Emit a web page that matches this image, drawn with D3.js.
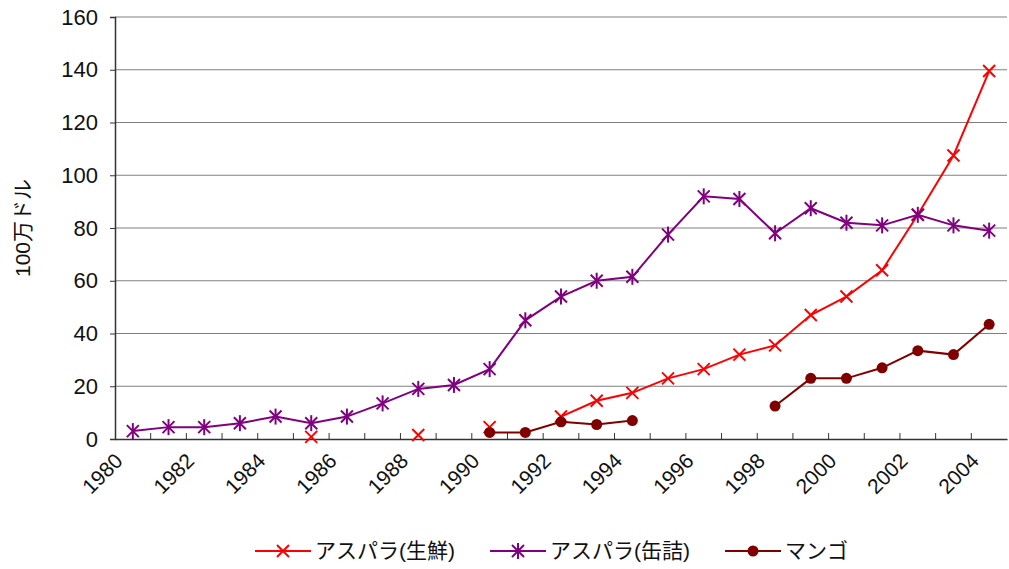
<!DOCTYPE html>
<html><head><meta charset="utf-8">
<script src="https://d3js.org/d3.v7.min.js"></script>
<style>body{margin:0;background:#fff}</style>
</head><body><svg width="1009" height="569"></svg>
<script>
const years = d3.range(1980, 2005);
const freshAsparagus = [null,null,null,null,null,0.8,null,null,1.5,null,4.5,null,8.5,14.5,17.5,23,26.5,32,35.5,47,54,64,85,107.5,139.5];
const cannedAsparagus = [3,4.5,4.5,6,8.5,6,8.5,13.5,19,20.5,26.5,45,54,60,61.5,77.5,92,91,78,87.5,82,81,85,81,79];
const mango = [null,null,null,null,null,null,null,null,null,null,2.5,2.5,6.5,5.5,7,null,null,null,12.5,23,23,27,33.5,32,43.5];
const yTicks = [0,20,40,60,80,100,120,140,160];
const seriesNames = ['アスパラ(生鮮)', 'アスパラ(缶詰)', 'マンゴ'];

const plotL = 115, plotR = 1007, plotT = 17, plotB = 439;
const font = '"Liberation Sans", Arial, "Noto Sans CJK JP", sans-serif';
const svg = d3.select('svg').style('font-family', font);

const x = d3.scaleBand().domain(years).range([plotL, plotR]);
const y = d3.scaleLinear().domain([0, 160]).range([plotB, plotT]);

// gridlines
svg.append('g').selectAll('line').data(yTicks.slice(1)).join('line')
  .attr('x1', plotL).attr('x2', plotR).attr('y1', d => y(d)).attr('y2', d => y(d))
  .attr('stroke', '#808080').attr('stroke-width', 1.2);

const yAxis = svg.append('g').attr('transform', 'translate(' + plotL + ',0)')
  .call(d3.axisLeft(y).tickValues(yTicks).tickSize(5).tickPadding(12));
yAxis.attr('font-family', null);
yAxis.select('.domain').attr('stroke', '#333').attr('stroke-width', 1.5);
yAxis.selectAll('.tick line').attr('stroke', '#333');
yAxis.selectAll('text').attr('font-size', 22).attr('fill', '#111');

const xAxis = svg.append('g').attr('transform', 'translate(0,' + plotB + ')')
  .call(d3.axisBottom(x).tickValues([]).tickSizeOuter(0));
xAxis.attr('font-family', null);
xAxis.select('.domain').attr('stroke', '#333').attr('stroke-width', 1.5);
// inward ticks at category boundaries
xAxis.selectAll('line.b').data(years.slice(1)).join('line').attr('class', 'b')
  .attr('x1', d => x(d)).attr('x2', d => x(d)).attr('y1', 0).attr('y2', -6)
  .attr('stroke', '#333');
xAxis.selectAll('text.lbl').data(years.filter(d => d % 2 === 0)).join('text').attr('class', 'lbl')
  .attr('transform', d => 'translate(' + (x(d) + x.bandwidth() / 2 - 14) + ',18) rotate(-45)')
  .attr('text-anchor', 'end').attr('dy', '0.35em')
  .attr('font-size', 21).attr('fill', '#111').text(d => d);

svg.append('text')
  .attr('transform', 'translate(30,' + ((plotT + plotB) / 2) + ') rotate(-90)')
  .attr('text-anchor', 'middle').attr('font-size', 21).attr('fill', '#111').text('100万ドル');

const cx = i => x(years[i]) + x.bandwidth() / 2;
const line = d3.line().defined(d => d != null).x((d, i) => cx(i)).y(d => y(d));

function xMark(g, px, py, color) {
  g.append('path').attr('d', 'M' + (px - 6) + ',' + (py - 6) + 'L' + (px + 6) + ',' + (py + 6) + 'M' + (px - 6) + ',' + (py + 6) + 'L' + (px + 6) + ',' + (py - 6))
    .attr('stroke', color).attr('stroke-width', 2);
}
function starMark(g, px, py, color) {
  xMark(g, px, py, color);
  g.append('path').attr('d', 'M' + px + ',' + (py - 8) + 'V' + (py + 8)).attr('stroke', color).attr('stroke-width', 2);
}
function dotMark(g, px, py, color) {
  g.append('circle').attr('cx', px).attr('cy', py).attr('r', 5.5).attr('fill', color);
}

const series = [
  {data: freshAsparagus, color: '#ff0000', mark: xMark},
  {data: cannedAsparagus, color: '#800080', mark: starMark},
  {data: mango, color: '#800000', mark: dotMark}
];
series.forEach(s => {
  const g = svg.append('g');
  g.append('path').datum(s.data).attr('d', line).attr('fill', 'none')
    .attr('stroke', s.color).attr('stroke-width', 2);
  s.data.forEach((v, i) => { if (v != null) s.mark(g, cx(i), y(v), s.color); });
});

// legend
const lg = svg.append('g');
const lx = [255, 490, 725];
series.forEach((s, i) => {
  const g = lg.append('g');
  g.append('line').attr('x1', lx[i]).attr('x2', lx[i] + 56).attr('y1', 551).attr('y2', 551)
    .attr('stroke', s.color).attr('stroke-width', 2);
  s.mark(g, lx[i] + 28, 551, s.color);
  g.append('text').attr('x', lx[i] + 60).attr('y', 551).attr('dy', '0.35em')
    .attr('font-size', 21).attr('fill', '#111').text(seriesNames[i]);
});
</script></body></html>
